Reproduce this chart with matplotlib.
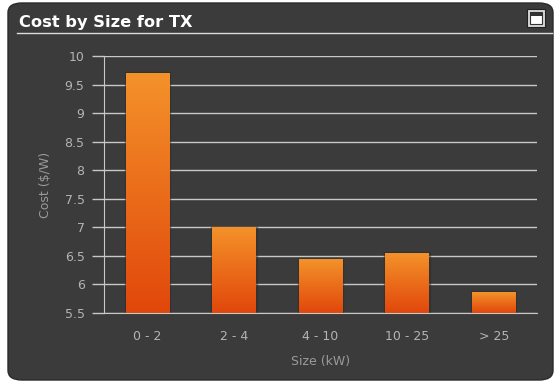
import numpy as np
import matplotlib.pyplot as plt
from matplotlib.patches import FancyBboxPatch, Rectangle
from matplotlib.colors import LinearSegmentedColormap

# data
sizes = ['0 - 2', '2 - 4', '4 - 10', '10 - 25', '> 25']
cost = [9.70, 6.99, 6.43, 6.55, 5.86]
y_ticks = [5.5, 6, 6.5, 7, 7.5, 8, 8.5, 9, 9.5, 10]

W, H = 557, 382
fig = plt.figure(figsize=(W / 100, H / 100), dpi=100)
fig.patch.set_facecolor('white')

# dark rounded panel
panel = FancyBboxPatch((8 / W, 2 / H), 545 / W, 377 / H,
                       boxstyle='round,pad=0,rounding_size=0.025',
                       transform=fig.transFigure, facecolor='#3b3b3b',
                       edgecolor='#2a2a2a', linewidth=1.0, zorder=-5)
fig.patches.append(panel)

# title + underline
fig.text(19 / W, 1 - 22 / H, 'Cost by Size for TX', color='white',
         fontsize=11.7, fontweight='bold', va='center', ha='left')
fig.add_artist(plt.Line2D([17 / W, 552 / W], [1 - 33 / H, 1 - 33 / H],
                          color='#dddddd', linewidth=1.0,
                          transform=fig.transFigure))

# window icon
fig.patches.append(Rectangle((527 / W, 1 - 27 / H), 18 / W, 18 / H,
                             transform=fig.transFigure, facecolor='#d8d8d8',
                             edgecolor='#222222', linewidth=0.8))
fig.patches.append(Rectangle((530 / W, 1 - 24 / H), 12 / W, 12 / H,
                             transform=fig.transFigure, facecolor='white',
                             edgecolor='#333333', linewidth=0.8))
fig.patches.append(Rectangle((530 / W, 1 - 16 / H), 12 / W, 4 / H,
                             transform=fig.transFigure, facecolor='#333333',
                             edgecolor='none'))

ax = fig.add_axes([104 / W, 1 - 313 / H, 433 / W, 257 / H])
ax.set_zorder(5)
ax.set_facecolor('#3b3b3b')

# gridlines
for y in y_ticks:
    ax.axhline(y, color='#c8c8c8', linewidth=1.0, zorder=1)

# gradient bars
cmap = LinearSegmentedColormap.from_list('bar', ['#e1470b', '#f4922a'])
grad = np.linspace(0, 1, 256).reshape(-1, 1)
x = np.arange(len(sizes))
for xi, v in zip(x, cost):
    ax.bar(xi, v - 5.5, bottom=5.5, width=0.5, color='none',
           edgecolor='#2b2b2b', linewidth=2.5, alpha=0.5, zorder=2)
    ax.imshow(grad, cmap=cmap, origin='lower', aspect='auto',
              extent=[xi - 0.25, xi + 0.25, 5.5, v], zorder=3)
ax.set_xlim(-0.5, len(sizes) - 0.5)
ax.set_ylim(5.5, 10)

for s in ['top', 'right']:
    ax.spines[s].set_visible(False)
ax.spines['left'].set_color('#c8c8c8')
ax.spines['bottom'].set_color('#c8c8c8')
ax.spines['bottom'].set_zorder(4)

ax.set_yticks(y_ticks)
ax.set_yticklabels([f'{t:g}' for t in y_ticks])
ax.set_xticks(x)
ax.set_xticklabels(sizes)
ax.tick_params(axis='y', length=9, width=1.0, color='#c8c8c8',
               labelcolor='#b4b4b4', labelsize=9, pad=5)
ax.tick_params(axis='x', length=0, labelcolor='#b4b4b4', labelsize=9, pad=12)

ax.set_xlabel('Size (kW)', color='#9a9a9a', fontsize=9, labelpad=9)
ax.set_ylabel('Cost ($/W)', color='#9a9a9a', fontsize=9, labelpad=9)

fig.savefig('out.png', dpi=100, facecolor=fig.get_facecolor())
